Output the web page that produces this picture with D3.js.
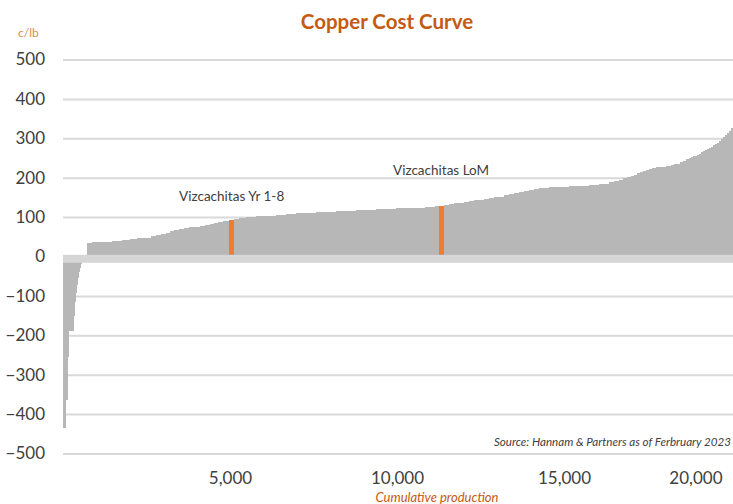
<!DOCTYPE html>
<html>
<head>
<meta charset="utf-8">
<script src="https://cdn.jsdelivr.net/npm/d3@7"></script>
<style>
  html, body { margin: 0; padding: 0; background: #fff; }
  svg { display: block; }
</style>
</head>
<body>
<script>
// ---- Data ----
// production of each operation (kt Cu), in cost order
const production = [
  60, 60, 45, 150, 30, 30, 30, 30, 30, 30, 30, 30, 40, 60, 60,
  150, 300, 300, 300, 240, 210, 240, 180, 150, 150, 150, 120, 120, 150, 150,
  150, 150, 180, 150, 150, 120, 120, 150, 120, 60, 150,
  150, 210, 300, 300, 300, 300, 300, 300, 300, 300, 300, 300, 300, 300, 300,
  300, 300, 300, 280, 280, 280, 120, 150,
  150, 150, 150, 150, 150, 150, 150, 150, 150, 150, 150, 150, 150, 150, 150,
  150, 150, 150, 150, 150, 150, 300, 300, 300, 300, 300,
  150, 150, 150, 150, 120, 120, 120, 90, 90, 90, 90, 90, 90, 90,
  120, 150, 150, 150, 90, 90, 90, 90, 90, 90,
  60, 60, 60, 60, 60, 60, 60, 60, 60, 60, 60, 60, 60, 60, 60, 60, 60, 60, 60, 60, 60, 90
];
// cash cost of each operation (c/lb)
const cost = [
  -435, -365, -255, -188, -150, -115, -92, -72, -55, -40, -28, -18, -10, -4, 3,
  34, 36, 38, 40, 42, 44, 46, 48, 51, 54, 57, 60, 64, 68, 71,
  73, 74, 76, 78, 80, 83, 86, 88, 90, 91, 93,
  96, 98, 100, 102, 104, 106, 108, 110, 111, 112, 114, 115, 116, 118, 119,
  120, 121, 122, 123, 124, 125, 127, 129,
  131, 133, 135, 137, 139, 141, 143, 144, 146, 148, 150, 152, 155, 158, 161,
  164, 167, 169, 171, 173, 175, 176, 177, 178, 179, 181,
  183, 185, 188, 191, 194, 198, 202, 205, 208, 211, 214, 217, 220, 222,
  224, 226, 228, 230, 232, 234, 236, 239, 243, 247,
  250, 252, 254, 256, 258, 261, 264, 267, 270, 273, 276, 279, 282, 285, 288, 293, 298, 304, 309, 313, 318, 325
];
// highlighted project positions (index into the arrays above)
const highlightIndex = [40, 63];
const highlightLabels = ["Vizcachitas Yr 1-8", "Vizcachitas LoM"];
const highlightLabelValue = [140, 208];

const yTicks = [-500, -400, -300, -200, -100, 0, 100, 200, 300, 400, 500];
const xTicks = [5000, 10000, 15000, 20000];

const chartTitle = "Copper Cost Curve";
const yUnit = "c/lb";
const xTitle = "Cumulative production";
const sourceNote = "Source: Hannam & Partners as of Ferbruary 2023";

// ---- Layout ----
const W = 733, H = 504;
const mLeft = 63, mRight = 733, mTop = 59.5, mBottom = 453.5;
const font = "Lato, 'Open Sans', sans-serif";
const barColor = "#b7b7b7";
const hiColor = "#ed7d31";
const gridColor = "#d9d9d9";
const textColor = "#404040";
const orangeText = "#c55a11";

const svg = d3.select("body").append("svg").attr("width", W).attr("height", H);

const x = d3.scaleLinear().domain([0, 20060]).range([mLeft, mRight]);
const y = d3.scaleLinear().domain([-500, 500]).range([mBottom, mTop]);

// cumulative positions
const starts = [];
let acc = 0;
production.forEach(p => { starts.push(acc); acc += p; });
const bars = production.map((p, i) => ({ x0: starts[i], x1: starts[i] + p, v: cost[i], i }));

// gridlines
const grid = svg.append("g").attr("transform", `translate(${mLeft},0)`)
  .call(d3.axisLeft(y).tickValues(yTicks).tickSize(-(mRight - mLeft)).tickFormat(""));
grid.select(".domain").remove();
grid.selectAll("line").attr("stroke", gridColor).attr("stroke-width", 2);

// clip
svg.append("clipPath").attr("id", "plot").append("rect")
  .attr("x", mLeft).attr("y", 0).attr("width", mRight - mLeft).attr("height", H);

const g = svg.append("g").attr("clip-path", "url(#plot)");
g.selectAll("rect.bar").data(bars).join("rect")
  .attr("class", "bar")
  .attr("x", d => x(d.x0))
  .attr("width", d => x(d.x1) - x(d.x0) + 0.6)
  .attr("y", d => Math.min(y(d.v), y(0)))
  .attr("height", d => Math.abs(y(d.v) - y(0)))
  .attr("fill", d => highlightIndex.includes(d.i) ? hiColor : barColor)
  .attr("shape-rendering", "crispEdges");

// zero axis band
svg.append("rect")
  .attr("x", mLeft).attr("width", mRight - mLeft)
  .attr("y", y(0) - 1.7).attr("height", 8)
  .attr("fill", "#d6d6d6");

// y axis labels
const ya = svg.append("g").attr("transform", `translate(${mLeft},0)`)
  .call(d3.axisLeft(y).tickValues(yTicks).tickSize(0).tickPadding(18).tickFormat(d3.format("d")));
ya.select(".domain").remove();
ya.selectAll("text").attr("font-family", font).attr("font-size", 17).attr("fill", textColor);

// x axis labels
const xa = svg.append("g").attr("transform", `translate(0,472)`)
  .call(d3.axisBottom(x).tickValues(xTicks).tickSize(0).tickPadding(0).tickFormat(d3.format(",")));
xa.select(".domain").remove();
xa.selectAll("text").attr("font-family", font).attr("font-size", 17).attr("fill", textColor);
xa.selectAll(".tick").each(function(d) {
  const t = d3.select(this).select("text");
  const bb = this.getBBox();
  const cx = x(d);
  if (cx + bb.width / 2 > W - 11) {
    t.attr("text-anchor", "end").attr("x", (W - 11) - cx);
  }
});

// highlight labels
highlightIndex.forEach((idx, k) => {
  const b = bars[idx];
  svg.append("text")
    .attr("x", x((b.x0 + b.x1) / 2))
    .attr("y", y(highlightLabelValue[k]))
    .attr("text-anchor", "middle")
    .attr("font-family", font).attr("font-size", 13.5)
    .attr("fill", textColor)
    .text(highlightLabels[k]);
});

// title
svg.append("text").attr("x", 387).attr("y", 29).attr("text-anchor", "middle")
  .attr("font-family", font).attr("font-size", 20.5).attr("font-weight", "bold")
  .attr("fill", orangeText).text(chartTitle);

// unit
svg.append("text").attr("x", 18).attr("y", 37)
  .attr("font-family", font).attr("font-size", 12)
  .attr("fill", "#d98b55").text(yUnit);

// source (fits inside the right edge)
svg.append("text").attr("x", 731).attr("y", 446).attr("text-anchor", "end")
  .attr("font-family", font).attr("font-size", 11.6).attr("font-style", "italic")
  .attr("fill", textColor).text(sourceNote);

// x title
svg.append("text").attr("x", 437).attr("y", 502).attr("text-anchor", "middle")
  .attr("font-family", font).attr("font-size", 13).attr("font-style", "italic")
  .attr("fill", orangeText).text(xTitle);
</script>
</body>
</html>
